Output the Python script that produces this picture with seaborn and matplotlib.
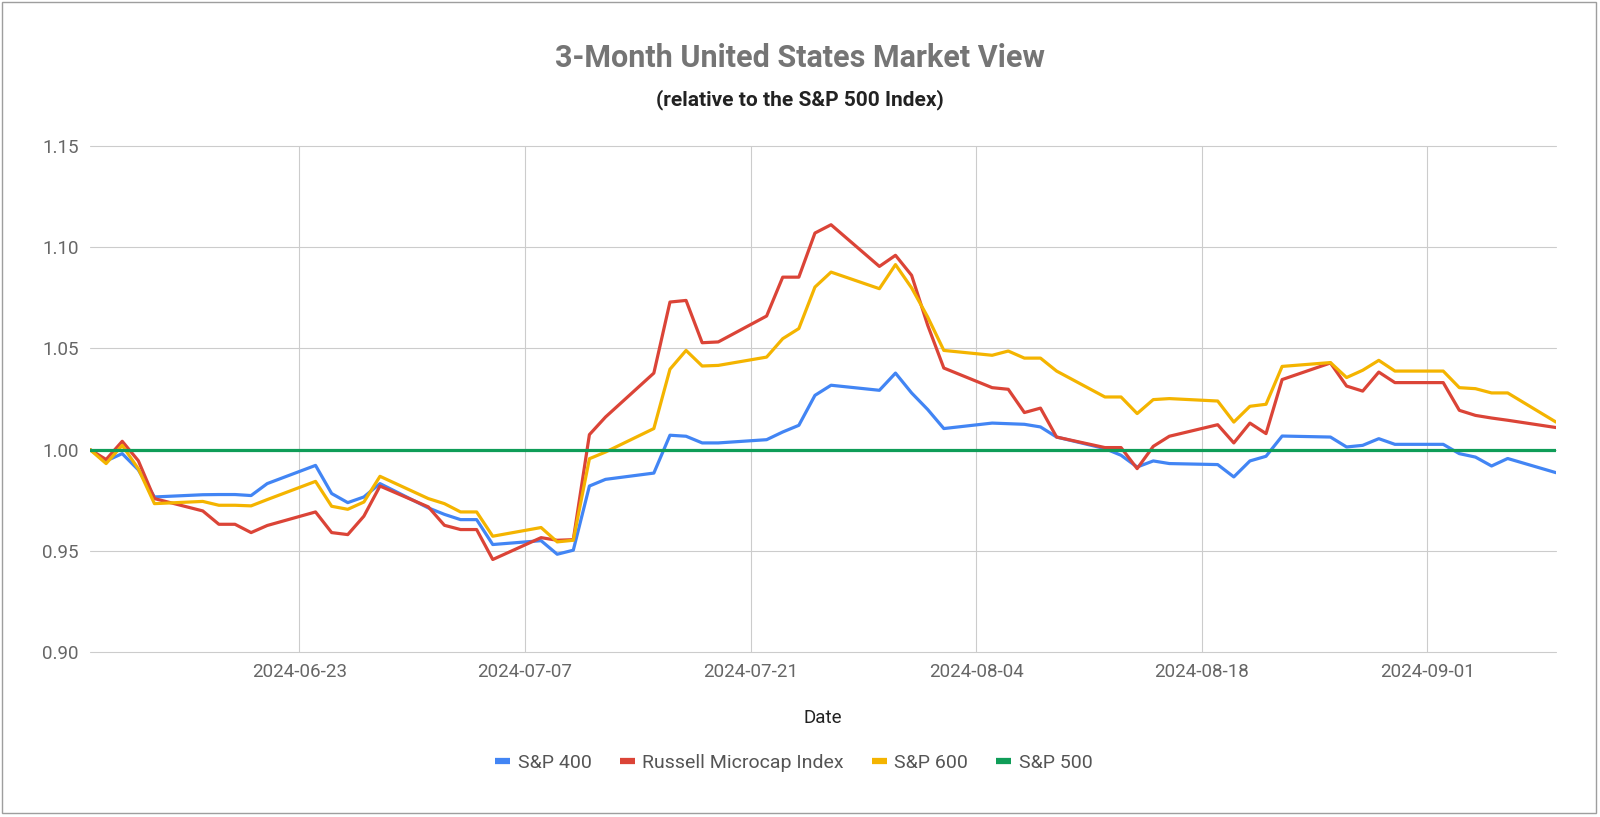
import matplotlib
matplotlib.use("Agg")
import matplotlib.pyplot as plt
import matplotlib.dates as mdates
from matplotlib.lines import Line2D
from matplotlib.patches import Rectangle
from matplotlib.ticker import FormatStrFormatter
import pandas as pd
import seaborn as sns

# every weekday; market holidays carry the previous close
dates = pd.bdate_range("2024-06-10", "2024-09-09")

sp400 = [
    1.000, 0.9944, 0.998, 0.990, 0.9766,
    0.9777, 0.9778, 0.9778, 0.9773, 0.9832,
    0.9922, 0.9783, 0.9738, 0.9766, 0.9832,
    0.9712, 0.9680, 0.9654, 0.9654, 0.9531,
    0.9550, 0.9483, 0.9503, 0.9820, 0.9853,
    0.9884, 1.0071, 1.0066, 1.0033, 1.0033,
    1.0049, 1.0087, 1.0120, 1.0268, 1.0318,
    1.0293, 1.0378, 1.0280, 1.0198, 1.0104,
    1.0131, 1.0128, 1.0125, 1.0112, 1.0062,
    1.0005, 0.9972, 0.9914, 0.9944, 0.9931,
    0.9926, 0.9865, 0.9944, 0.9967, 1.0067,
    1.0062, 1.0013, 1.0021, 1.0054, 1.0026,
    1.0026, 0.9980, 0.9963, 0.9919, 0.9956,
    0.9886,
]

russell_microcap = [
    1.000, 0.9951, 1.0041, 0.9945, 0.9758,
    0.9697, 0.9631, 0.9631, 0.9590, 0.9625,
    0.9692, 0.9590, 0.9580, 0.9671, 0.9820,
    0.9717, 0.9626, 0.9605, 0.9605, 0.9457,
    0.9565, 0.9552, 0.9555, 1.0074, 1.0161,
    1.0378, 1.0729, 1.0737, 1.0528, 1.0532,
    1.0660, 1.0852, 1.0852, 1.1070, 1.1111,
    1.0905, 1.0960, 1.0861, 1.0614, 1.0403,
    1.0306, 1.0298, 1.0183, 1.0205, 1.0062,
    1.0010, 1.0010, 0.9906, 1.0016, 1.0066,
    1.0123, 1.0033, 1.0131, 1.0079, 1.0346,
    1.0428, 1.0314, 1.0289, 1.0383, 1.0331,
    1.0331, 1.0194, 1.0169, 1.0156, 1.0145,
    1.0109,
]

sp600 = [
    1.000, 0.9931, 1.0021, 0.9905, 0.9733,
    0.9744, 0.9725, 0.9725, 0.9722, 0.9753,
    0.9843, 0.9720, 0.9705, 0.9741, 0.9868,
    0.9758, 0.9733, 0.9692, 0.9692, 0.9572,
    0.9615, 0.9544, 0.9552, 0.9955, 0.9988,
    1.0104, 1.0397, 1.0490, 1.0413, 1.0416,
    1.0457, 1.0548, 1.0598, 1.0803, 1.0877,
    1.0795, 1.0914, 1.0799, 1.0655, 1.0490,
    1.0466, 1.0487, 1.0452, 1.0452, 1.0388,
    1.0260, 1.0260, 1.0178, 1.0247, 1.0252,
    1.0240, 1.0136, 1.0214, 1.0224, 1.0411,
    1.0430, 1.0356, 1.0392, 1.0441, 1.0388,
    1.0388, 1.0306, 1.0301, 1.0280, 1.0280,
    1.0136,
]

# the benchmark relative to itself
sp500 = [1.0] * len(dates)

series_names = ["S&P 400", "Russell Microcap Index", "S&P 600", "S&P 500"]
colors = ["#4285F4", "#DB4437", "#F4B400", "#0F9D58"]
tick_dates = ["2024-06-23", "2024-07-07", "2024-07-21", "2024-08-04", "2024-08-18", "2024-09-01"]
y_ticks = [0.90, 0.95, 1.00, 1.05, 1.10, 1.15]

df = pd.DataFrame({
    "Date": dates,
    "S&P 400": sp400,
    "Russell Microcap Index": russell_microcap,
    "S&P 600": sp600,
    "S&P 500": sp500,
}).melt(id_vars="Date", var_name="Index", value_name="Value")

sns.set_theme(style="white")
plt.rcParams["font.family"] = ["Roboto", "DejaVu Sans"]

W, H = 1600, 817
fig = plt.figure(figsize=(W / 100, H / 100), dpi=100)
ax = fig.add_axes([90 / W, 1 - 652 / H, (1556 - 90) / W, (652 - 146) / H])

sns.lineplot(data=df, x="Date", y="Value", hue="Index", hue_order=series_names,
             palette=colors, linewidth=2.3, ax=ax, legend=False)

ax.set_xlim(pd.Timestamp("2024-06-10"), pd.Timestamp("2024-09-09"))
ax.set_ylim(0.90, 1.15)
ax.set_xticks(pd.to_datetime(tick_dates))
ax.xaxis.set_major_formatter(mdates.DateFormatter("%Y-%m-%d"))
ax.set_yticks(y_ticks)
ax.yaxis.set_major_formatter(FormatStrFormatter("%.2f"))
ax.grid(True, color="#CCCCCC", linewidth=0.8)
ax.set_axisbelow(True)
for line in ax.get_xgridlines() + ax.get_ygridlines():
    line.set_clip_on(False)
for s in ax.spines.values():
    s.set_visible(False)
ax.tick_params(length=0, labelsize=13.5, labelcolor="#666666", pad=8)

ax.set_ylabel("")
ax.set_xlabel("Date", fontsize=13.5, color="#222222")
ax.xaxis.label.set_va("center")
ax.xaxis.set_label_coords(0.5, -(718 - 652) / (652 - 146))

fig.text(0.5, 1 - 58 / H, "3-Month United States Market View", ha="center", va="center",
         fontsize=22, fontweight="bold", color="#757575")
fig.text(0.5, 1 - 100 / H, "(relative to the S&P 500 Index)", ha="center", va="center",
         fontsize=15, fontweight="bold", color="#222222")

handles = [Line2D([0], [0], color=c, lw=4.5, solid_capstyle="butt") for c in colors]
fig.legend(handles, series_names, loc="center", bbox_to_anchor=(794 / W, 1 - 763 / H),
           ncol=4, frameon=False, fontsize=14, handlelength=0.75, handletextpad=0.4,
           columnspacing=1.45, labelcolor="#555555")

fig.patches.append(Rectangle((2 / W, 4 / H), 1594 / W, 811 / H, transform=fig.transFigure,
                             fill=False, edgecolor="#9E9E9E", linewidth=1))

fig.savefig("out.png", dpi=100)
